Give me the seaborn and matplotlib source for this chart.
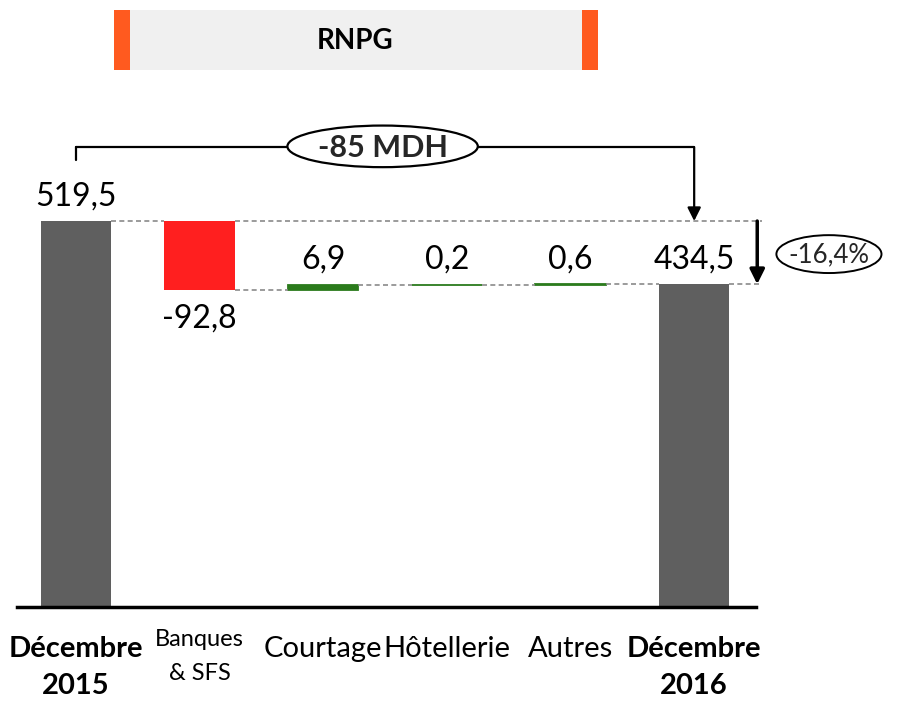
import numpy as np
import pandas as pd
import matplotlib
matplotlib.use("Agg")
import matplotlib.pyplot as plt
import seaborn as sns
from matplotlib.patches import Ellipse, Rectangle

# ---------------- data ----------------
categories = ["Décembre\n2015", "Banques\n& SFS", "Courtage", "Hôtellerie", "Autres", "Décembre\n2016"]
values = [519.5, -92.8, 6.9, 0.2, 0.6, 434.5]
value_labels = ["519,5", "-92,8", "6,9", "0,2", "0,6", "434,5"]
kinds = ["total", "delta", "delta", "delta", "delta", "total"]
title_text = "RNPG"
gap_text = "-85 MDH"
pct_text = "-16,4%"

# ---------------- style ----------------
sns.set_theme(style="white")
plt.rcParams["font.family"] = ["Lato", "DejaVu Sans"]

GREY = "#5f5f5f"
RED = "#ff1f1f"
GREEN = "#2b7b1c"
ORANGE = "#ff5a1f"
DASH = "#8a8a8a"

# waterfall geometry from the values
bottoms, heights, levels = [], [], []
level = 0.0
for v, k in zip(values, kinds):
    if k == "total":
        bottoms.append(0.0); heights.append(v); level = v
    else:
        if v >= 0:
            bottoms.append(level); heights.append(v)
        else:
            bottoms.append(level + v); heights.append(-v)
        level += v
    levels.append(level)

df = pd.DataFrame({"cat": categories, "height": heights})

fig = plt.figure(figsize=(9.04, 7.03), dpi=100)
ax = fig.add_axes([17 / 904, 96 / 703, 739 / 904, 607 / 703])

W = 0.57
sns.barplot(data=df, x="cat", y="height", bottom=bottoms, width=W, color=GREY,
            errorbar=None, ax=ax, linewidth=0, saturation=1)

for p, v, k in zip(ax.patches, values, kinds):
    if k == "total":
        p.set_facecolor(GREY); p.set_edgecolor(GREY); p.set_linewidth(0)
    elif v < 0:
        p.set_facecolor(RED); p.set_edgecolor(RED); p.set_linewidth(0)
    else:
        p.set_facecolor(GREEN); p.set_edgecolor(GREEN); p.set_linewidth(1.3)

ax.set_xlim(-0.477, 5.50)
ax.set_ylim(0, 817)

# dashed connectors
XR = 5.55
dash_kw = dict(color=DASH, lw=1.2, ls=(0, (3, 2)), clip_on=False, zorder=3)
for i in range(len(values) - 1):
    ax.plot([i + W / 2, i + 1 - W / 2], [levels[i], levels[i]], **dash_kw)
ax.plot([1 + W / 2, XR], [values[0], values[0]], **dash_kw)
ax.plot([5 + W / 2, XR], [values[-1], values[-1]], **dash_kw)

# value labels
fs_val = 23
for i, (lab, v, k) in enumerate(zip(value_labels, values, kinds)):
    if k == "total" and i == 0:
        ax.text(i, 540, lab, ha="center", va="baseline", fontsize=fs_val, color="black")
    elif v < 0:
        ax.text(i, 376, lab, ha="center", va="baseline", fontsize=fs_val, color="black")
    else:
        ax.text(i, 456, lab, ha="center", va="baseline", fontsize=fs_val, color="black")

# bracket with -85 MDH
yb = 619
ell_cx, ell_w = 2.48, 1.54
lk = dict(color="black", lw=1.6, clip_on=False, zorder=4)
ax.plot([0, 0], [601, yb], **lk)
ax.plot([0, ell_cx - ell_w / 2], [yb, yb], **lk)
ax.plot([ell_cx + ell_w / 2, 5], [yb, yb], **lk)
ax.annotate("", xy=(5, values[0]), xytext=(5, yb),
            arrowprops=dict(arrowstyle="-|>", lw=1.6, color="black", mutation_scale=20,
                            shrinkA=0, shrinkB=0), annotation_clip=False)
ax.add_patch(Ellipse((ell_cx, 620), ell_w, 56, facecolor="white", edgecolor="black",
                     lw=1.6, clip_on=False, zorder=5))
ax.text(ell_cx, 618, gap_text, ha="center", va="center", fontsize=22, fontweight="bold",
        zorder=6)

# right arrow with -16,4%
ax.annotate("", xy=(5.51, values[-1]), xytext=(5.51, values[0]),
            arrowprops=dict(arrowstyle="-|>", lw=2.5, color="black", mutation_scale=22,
                            shrinkA=0, shrinkB=0), annotation_clip=False)
ax.add_patch(Ellipse((6.09, 475), 0.85, 51, facecolor="white", edgecolor="black",
                     lw=1.4, clip_on=False, zorder=5))
ax.text(6.09, 474, pct_text, ha="center", va="center", fontsize=18.5, zorder=6)

# axes styling
ax.set_xlabel(""); ax.set_ylabel("")
ax.set_yticks([])
for s in ["left", "right", "top"]:
    ax.spines[s].set_visible(False)
ax.spines["bottom"].set_color("black")
ax.spines["bottom"].set_linewidth(2.5)
ax.set_xticks(range(len(categories)))
ax.set_xticklabels(categories)
ax.tick_params(axis="x", length=0, pad=21, colors="black")
for lab, k, c in zip(ax.get_xticklabels(), kinds, categories):
    lab.set_multialignment("center")
    if k == "total":
        lab.set_fontsize(21); lab.set_fontweight("bold"); lab.set_linespacing(1.5)
    elif "\n" in c:
        lab.set_fontsize(17); lab.set_linespacing(1.75)
        lab.set_y(0.012)
    else:
        lab.set_fontsize(21)

# banner
fig.patches.append(Rectangle((114 / 904, 1 - 70 / 703), 484 / 904, 60 / 703,
                             transform=fig.transFigure, facecolor="#f0f0f0",
                             edgecolor="none", zorder=0))
for xl in (114, 582):
    fig.patches.append(Rectangle((xl / 904, 1 - 70 / 703), 16 / 904, 60 / 703,
                                 transform=fig.transFigure, facecolor=ORANGE,
                                 edgecolor="none", zorder=1))
fig.text(355 / 904, 1 - 41 / 703, title_text, ha="center", va="center", fontsize=20,
         fontweight="bold", color="black")

fig.savefig("out.png", dpi=100, facecolor="white")
